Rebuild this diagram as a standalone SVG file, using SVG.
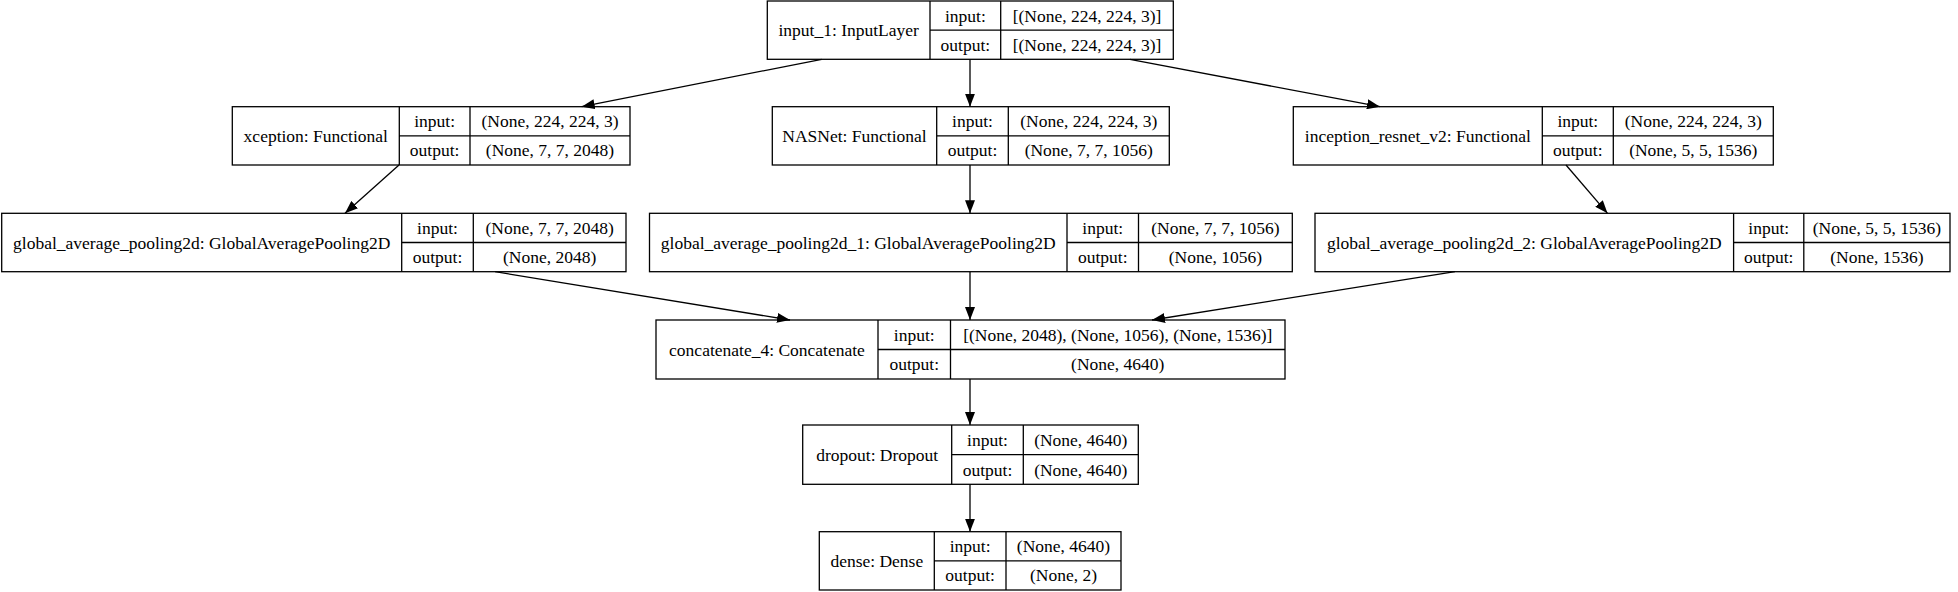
<svg xmlns="http://www.w3.org/2000/svg" width="1958" height="592" viewBox="0 0 1958 592">
<style>
.b{fill:none;stroke:#000;stroke-width:1.3}
.t{font-family:"Liberation Serif","Times New Roman",serif;font-size:17.5px;fill:#000;text-anchor:middle}
.e{fill:none;stroke:#000;stroke-width:1.3;marker-end:url(#ah)}
</style>
<defs>
<marker id="ah" viewBox="0 0 13 10" refX="13" refY="5" markerWidth="13" markerHeight="10" markerUnits="userSpaceOnUse" orient="auto">
<path d="M0,0 L13,5 L0,10 z" fill="#000"/>
</marker>
</defs>
<rect width="1958" height="592" fill="#fff"/>
<g id="connectors">
<line class="e" x1="821.7" y1="59.3" x2="581.7" y2="106.7"/>
<line class="e" x1="970" y1="59.3" x2="970" y2="106.7"/>
<line class="e" x1="1130" y1="59.3" x2="1380" y2="106.7"/>
<line class="e" x1="399" y1="165" x2="345" y2="213.3"/>
<line class="e" x1="970" y1="165" x2="970" y2="213.3"/>
<line class="e" x1="1566" y1="165" x2="1607.5" y2="213.3"/>
<line class="e" x1="495" y1="271.7" x2="790" y2="320"/>
<line class="e" x1="970" y1="271.7" x2="970" y2="320"/>
<line class="e" x1="1455" y1="271.7" x2="1152" y2="320"/>
<line class="e" x1="970" y1="379" x2="970" y2="425"/>
<line class="e" x1="970" y1="484.3" x2="970" y2="531.7"/>
</g>
<g id="input_1">
<rect class="b" x="767.3" y="1" width="406" height="58.3"/>
<path class="b" d="M930,1V59.3M1000.7,1V59.3M930,30.15H1173.3"/>
<text class="t" x="848.65" y="36">input_1: InputLayer</text>
<text class="t" x="965.35" y="21.6">input:</text>
<text class="t" x="965.35" y="50.7">output:</text>
<text class="t" x="1087" y="21.6">[(None, 224, 224, 3)]</text>
<text class="t" x="1087" y="50.7">[(None, 224, 224, 3)]</text>
</g>
<g id="xception">
<rect class="b" x="232.3" y="106.7" width="397.7" height="58.3"/>
<path class="b" d="M399.3,106.7V165M470,106.7V165M399.3,135.85H630"/>
<text class="t" x="315.8" y="141.9">xception: Functional</text>
<text class="t" x="434.65" y="127.3">input:</text>
<text class="t" x="434.65" y="156.4">output:</text>
<text class="t" x="550" y="127.3">(None, 224, 224, 3)</text>
<text class="t" x="550" y="156.4">(None, 7, 7, 2048)</text>
</g>
<g id="NASNet">
<rect class="b" x="772.3" y="106.7" width="397" height="58.3"/>
<path class="b" d="M936.7,106.7V165M1008.3,106.7V165M936.7,135.85H1169.3"/>
<text class="t" x="854.5" y="141.9">NASNet: Functional</text>
<text class="t" x="972.5" y="127.3">input:</text>
<text class="t" x="972.5" y="156.4">output:</text>
<text class="t" x="1088.8" y="127.3">(None, 224, 224, 3)</text>
<text class="t" x="1088.8" y="156.4">(None, 7, 7, 1056)</text>
</g>
<g id="inception_resnet_v2">
<rect class="b" x="1293.3" y="106.7" width="480" height="58.3"/>
<path class="b" d="M1542.3,106.7V165M1613.3,106.7V165M1542.3,135.85H1773.3"/>
<text class="t" x="1417.8" y="141.9">inception_resnet_v2: Functional</text>
<text class="t" x="1577.8" y="127.3">input:</text>
<text class="t" x="1577.8" y="156.4">output:</text>
<text class="t" x="1693.3" y="127.3">(None, 224, 224, 3)</text>
<text class="t" x="1693.3" y="156.4">(None, 5, 5, 1536)</text>
</g>
<g id="global_average_pooling2d">
<rect class="b" x="1.7" y="213.3" width="624.3" height="58.4"/>
<path class="b" d="M401.7,213.3V271.7M473.3,213.3V271.7M401.7,242.5H626"/>
<text class="t" x="201.7" y="248.5">global_average_pooling2d: GlobalAveragePooling2D</text>
<text class="t" x="437.5" y="233.9">input:</text>
<text class="t" x="437.5" y="263.1">output:</text>
<text class="t" x="549.7" y="233.9">(None, 7, 7, 2048)</text>
<text class="t" x="549.7" y="263.1">(None, 2048)</text>
</g>
<g id="global_average_pooling2d_1">
<rect class="b" x="649.5" y="213.3" width="642.8" height="58.4"/>
<path class="b" d="M1067,213.3V271.7M1138.5,213.3V271.7M1067,242.5H1292.3"/>
<text class="t" x="858.25" y="248.5">global_average_pooling2d_1: GlobalAveragePooling2D</text>
<text class="t" x="1102.75" y="233.9">input:</text>
<text class="t" x="1102.75" y="263.1">output:</text>
<text class="t" x="1215.4" y="233.9">(None, 7, 7, 1056)</text>
<text class="t" x="1215.4" y="263.1">(None, 1056)</text>
</g>
<g id="global_average_pooling2d_2">
<rect class="b" x="1315" y="213.3" width="635" height="58.4"/>
<path class="b" d="M1733.6,213.3V271.7M1803.8,213.3V271.7M1733.6,242.5H1950"/>
<text class="t" x="1524.3" y="248.5">global_average_pooling2d_2: GlobalAveragePooling2D</text>
<text class="t" x="1768.7" y="233.9">input:</text>
<text class="t" x="1768.7" y="263.1">output:</text>
<text class="t" x="1876.9" y="233.9">(None, 5, 5, 1536)</text>
<text class="t" x="1876.9" y="263.1">(None, 1536)</text>
</g>
<g id="concatenate_4">
<rect class="b" x="656" y="320" width="629" height="59"/>
<path class="b" d="M878,320V379M950.5,320V379M878,349.5H1285"/>
<text class="t" x="767" y="355.5">concatenate_4: Concatenate</text>
<text class="t" x="914.25" y="340.75">input:</text>
<text class="t" x="914.25" y="370.25">output:</text>
<text class="t" x="1117.75" y="340.75">[(None, 2048), (None, 1056), (None, 1536)]</text>
<text class="t" x="1117.75" y="370.25">(None, 4640)</text>
</g>
<g id="dropout">
<rect class="b" x="802.7" y="425" width="335.6" height="59.3"/>
<path class="b" d="M951.7,425V484.3M1023.3,425V484.3M951.7,454.65H1138.3"/>
<text class="t" x="877.2" y="460.65">dropout: Dropout</text>
<text class="t" x="987.5" y="445.8">input:</text>
<text class="t" x="987.5" y="475.5">output:</text>
<text class="t" x="1080.8" y="445.8">(None, 4640)</text>
<text class="t" x="1080.8" y="475.5">(None, 4640)</text>
</g>
<g id="dense">
<rect class="b" x="819.3" y="531.7" width="301.7" height="58.3"/>
<path class="b" d="M934.3,531.7V590M1006,531.7V590M934.3,560.85H1121"/>
<text class="t" x="876.8" y="566.85">dense: Dense</text>
<text class="t" x="970.15" y="552.3">input:</text>
<text class="t" x="970.15" y="581.4">output:</text>
<text class="t" x="1063.5" y="552.3">(None, 4640)</text>
<text class="t" x="1063.5" y="581.4">(None, 2)</text>
</g>
</svg>
